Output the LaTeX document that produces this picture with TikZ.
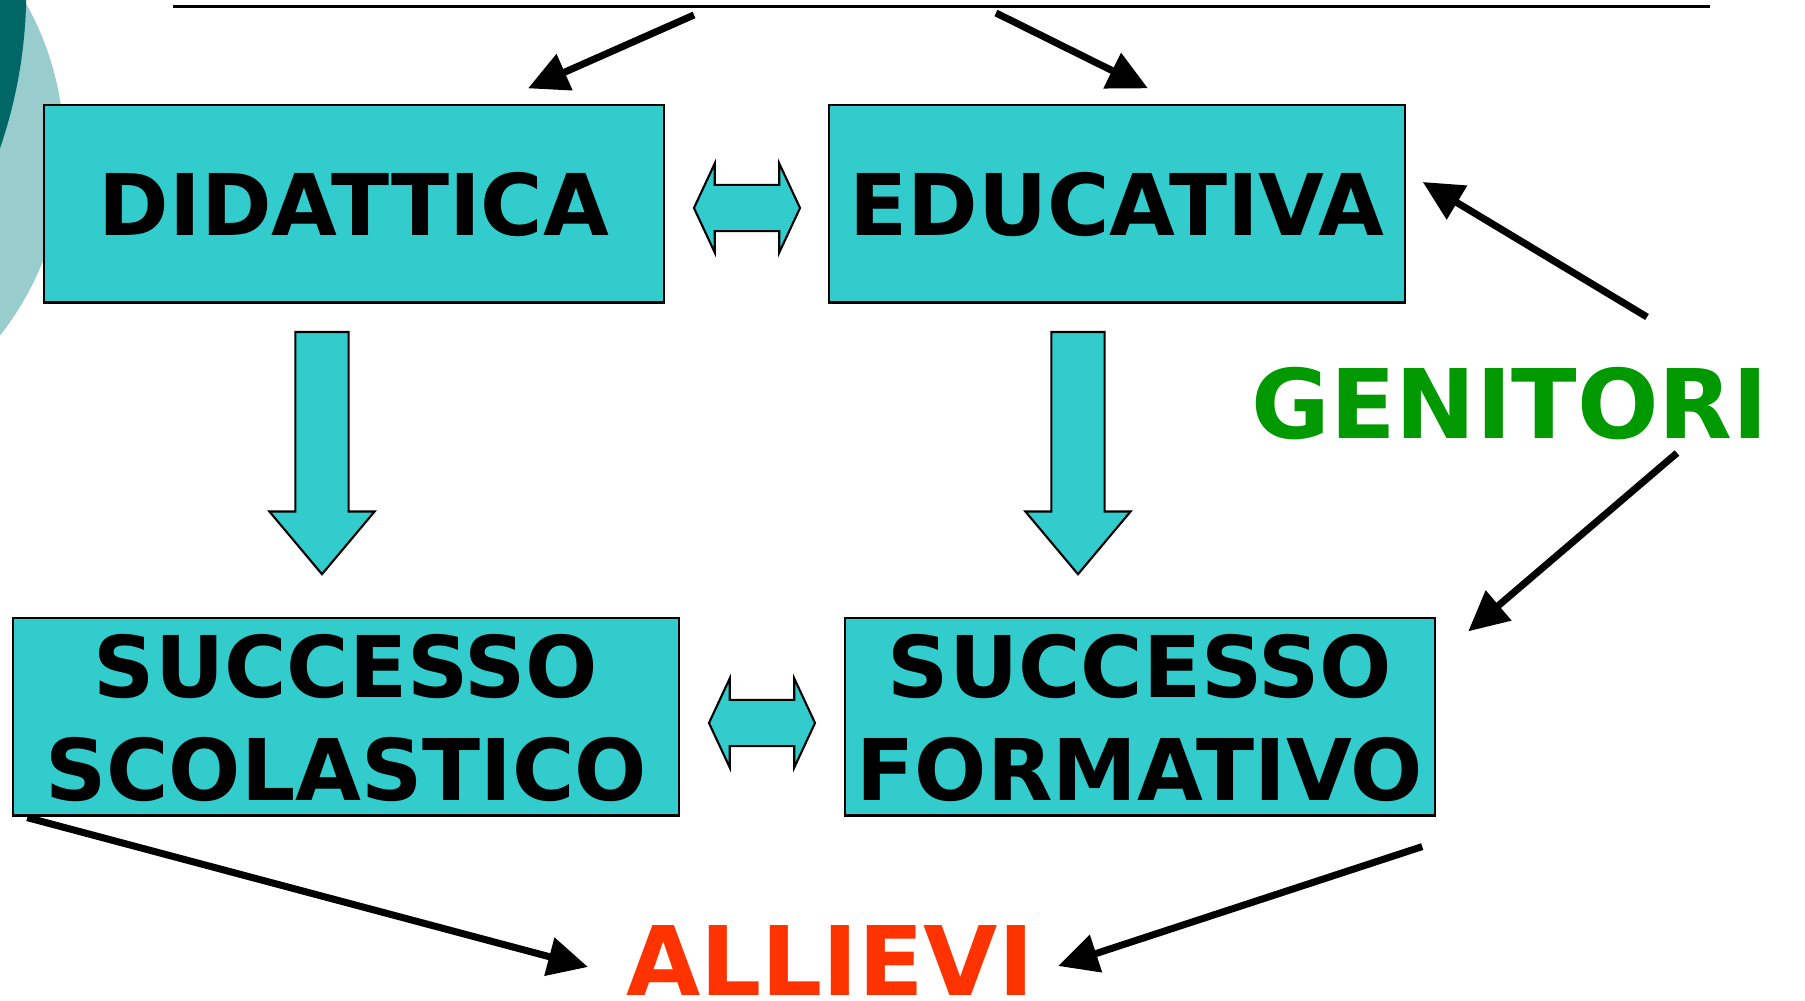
\documentclass[tikz,border=0pt]{standalone}
\usepackage{fontspec}
\setmainfont{DejaVu Sans}
\usetikzlibrary{arrows.meta,shapes.arrows}
\definecolor{boxcol}{RGB}{51,204,204}
\definecolor{darkteal}{RGB}{0,102,102}
\definecolor{lightteal}{RGB}{153,204,204}
\definecolor{gencol}{RGB}{0,153,0}
\definecolor{allcol}{RGB}{255,51,0}

\begin{document}
\begin{tikzpicture}[x=0.01cm,y=-0.01cm,
		box/.style={draw,fill=boxcol,line width=0.6pt,inner sep=0,align=center,text depth=-0.05cm,minimum height=1.97cm,font=\fontsize{24.2}{29.3}\selectfont\bfseries},
		lowbox/.style={box,text depth=-0.1cm},
		biglabel/.style={inner sep=0,font=\fontsize{27.3}{32}\selectfont\bfseries},
		conn/.style={line width=2pt,-{Triangle[length=0.4cm,width=0.38cm]}},
		downarrow/.style={single arrow,draw,fill=boxcol,line width=0.6pt,rotate=-90,inner sep=0,inner ysep=0.255cm,minimum height=2.42cm,single arrow head extend=0.26cm,single arrow tip angle=80},
		twoarrow/.style={double arrow,draw,fill=boxcol,line width=0.6pt,inner sep=0,inner ysep=0.22cm,minimum height=1.06cm,double arrow head extend=0.215cm,double arrow tip angle=130}]
		\useasboundingbox (0,0) rectangle (1805,1001);
		\begin{scope}
			\clip (0,0) rectangle (1805,1001);
			\fill[lightteal] (-236,150) circle[radius=3cm];
			\fill[darkteal] (-461,-10) circle[radius=4.87cm];
		\end{scope}
		\coordinate (ltop) at (173,7);
		\coordinate (rtop) at (1710,7);
		\coordinate (t1) at (694,15);
		\coordinate (t2) at (996,13);
		\draw[line width=0.85pt] (ltop) -- (rtop);
		\path
		node[box,minimum width=6.2cm] (did) at (354,204) {DIDATTICA}
		node[box,minimum width=5.75cm] (edu) at (1117,204) {EDUCATIVA}
		node[lowbox,minimum width=6.65cm] (sco) at (346,717) {SUCCESSO\\SCOLASTICO}
		node[lowbox,minimum width=5.9cm] (form) at (1140,717) {SUCCESSO\\FORMATIVO}
		node[biglabel,text=gencol] (gen) at (1510,404) {GENITORI}
		node[biglabel,text=allcol] (all) at (830,961) {ALLIEVI}
		node[downarrow,anchor=tail] (ldown) at (322,331) {}
		node[downarrow,anchor=tail] (rdown) at (1078,331) {}
		node[twoarrow] (toparrow) at (747,208) {}
		node[twoarrow] (botarrow) at (762,723) {};
		\draw [conn] (t1) -- ([shift={(174,-16)}]did.north);
		\draw [conn] (t2) -- ([shift={(31,-16)}]edu.north);
		\draw [conn] ([shift={(137,-87)}]gen.center) -- ([shift={(17,-22)}]edu.east);
		\draw [conn] ([shift={(167,49)}]gen.center) -- ([shift={(32,14)}]form.north east);
		\draw [conn] ([shift={(15,1)}]sco.south west) -- ([shift={(-242,6)}]all.center);
		\draw [conn] ([shift={(-14,30)}]form.south east) -- ([shift={(228,5)}]all.center);
\end{tikzpicture}
\end{document}
